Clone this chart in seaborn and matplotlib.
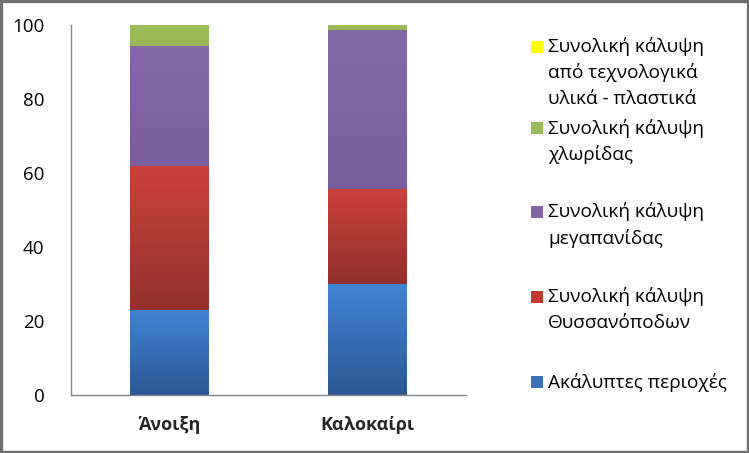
import numpy as np
import pandas as pd
import matplotlib
matplotlib.use("Agg")
import matplotlib.pyplot as plt
from matplotlib.patches import Rectangle
from matplotlib.colors import to_rgb
import seaborn as sns

# ---- data ----
seasons = ["Άνοιξη", "Καλοκαίρι"]
uncovered = [23.0, 30.0]          # Ακάλυπτες περιοχές
thrips = [39.0, 25.7]             # Συνολική κάλυψη Θυσσανόποδων
megapanida = [32.3, 42.9]         # Συνολική κάλυψη μεγαπανίδας
flora = [5.7, 1.4]                # Συνολική κάλυψη χλωρίδας
plastics = [0.0, 0.0]             # Συνολική κάλυψη από τεχνολογικά υλικά - πλαστικά

series_names = [
    "Ακάλυπτες περιοχές",
    "Συνολική κάλυψη\nΘυσσανόποδων",
    "Συνολική κάλυψη\nμεγαπανίδας",
    "Συνολική κάλυψη\nχλωρίδας",
    "Συνολική κάλυψη\nαπό τεχνολογικά\nυλικά - πλαστικά",
]
series_values = [uncovered, thrips, megapanida, flora, plastics]
top_colors = ["#4184D4", "#CB423D", "#8468A8", "#9EBE5C", "#FFFF00"]
bottom_colors = ["#2B5894", "#93302D", "#7A5E9C", "#97B656", "#FFFF00"]
legend_colors = ["#3A70B8", "#C0392F", "#8064A2", "#9BBB59", "#FFFF00"]
y_ticks = [0, 20, 40, 60, 80, 100]

sns.set_style("white")
plt.rcParams["font.family"] = ["Open Sans", "DejaVu Sans"]

fig = plt.figure(figsize=(7.49, 4.53), dpi=100)
ax = fig.add_axes([71 / 749, 1 - 395 / 453, (466 - 71) / 749, (395 - 25) / 453])

bottom = np.zeros(len(seasons))
for name, vals, c_top, c_bot in zip(series_names, series_values, top_colors, bottom_colors):
    n_before = len(ax.patches)
    df = pd.DataFrame({"season": seasons, "value": vals})
    sns.barplot(data=df, x="season", y="value", order=seasons, bottom=bottom,
                color=c_top, saturation=1, width=0.4, linewidth=0,
                errorbar=None, ax=ax)
    new_patches = ax.patches[n_before:]
    grad = np.linspace(0, 1, 256)[:, None, None]
    img = (1 - grad) * np.array(to_rgb(c_top)) + grad * np.array(to_rgb(c_bot))
    for p in new_patches:
        h = p.get_height()
        if h <= 0:
            continue
        x0 = p.get_x(); w = p.get_width(); y0 = p.get_y()
        im = ax.imshow(img, extent=(x0, x0 + w, y0, y0 + h), aspect="auto",
                       origin="upper", zorder=p.get_zorder() + 0.1, interpolation="bilinear")
        im.set_clip_path(p)
    bottom = bottom + np.array(vals)

ax.set_xlim(-0.5, 1.5)
ax.set_ylim(0, 100)
ax.set_yticks(y_ticks)
ax.set_yticklabels([str(t) for t in y_ticks], fontsize=13.5, color="black")
ax.set_xlabel("")
ax.set_ylabel("")
ax.set_xticks(range(len(seasons)))
ax.set_xticklabels(seasons, fontsize=13, fontweight="bold")
ax.set_xticks([-0.5, 0.5, 1.5], minor=True)
ax.tick_params(axis="x", which="major", length=0, pad=15)
ax.tick_params(axis="x", which="minor", length=5, width=1, color="#868686", direction="out")
ax.tick_params(axis="y", length=5, width=1, color="#868686", direction="out", pad=14)
for s in ["top", "right"]:
    ax.spines[s].set_visible(False)
for s in ["left", "bottom"]:
    ax.spines[s].set_color("#868686")
    ax.spines[s].set_linewidth(1)
ax.grid(False)
ax.set_facecolor("white")

# ---- legend (drawn in figure coordinates) ----
legend_first_line_y = [382, 297, 212, 128, 47]
line_step = 26
for name, col, ypx in zip(series_names, legend_colors, legend_first_line_y):
    fig.patches.append(Rectangle((531 / 749, 1 - (ypx + 6) / 453), 12 / 749, 12 / 453,
                                 transform=fig.transFigure, facecolor=col,
                                 edgecolor="none"))
    for i, line in enumerate(name.split("\n")):
        fig.text(548 / 749, 1 - (ypx + i * line_step) / 453, line, fontsize=13.7,
                 va="center", ha="left", color="black")

# figure border
fig.patches.append(Rectangle((0.002, 0.003), 0.996, 0.994, transform=fig.transFigure,
                             fill=False, edgecolor="#6f6f6f", linewidth=2.4))

fig.savefig("out.png", dpi=100)
